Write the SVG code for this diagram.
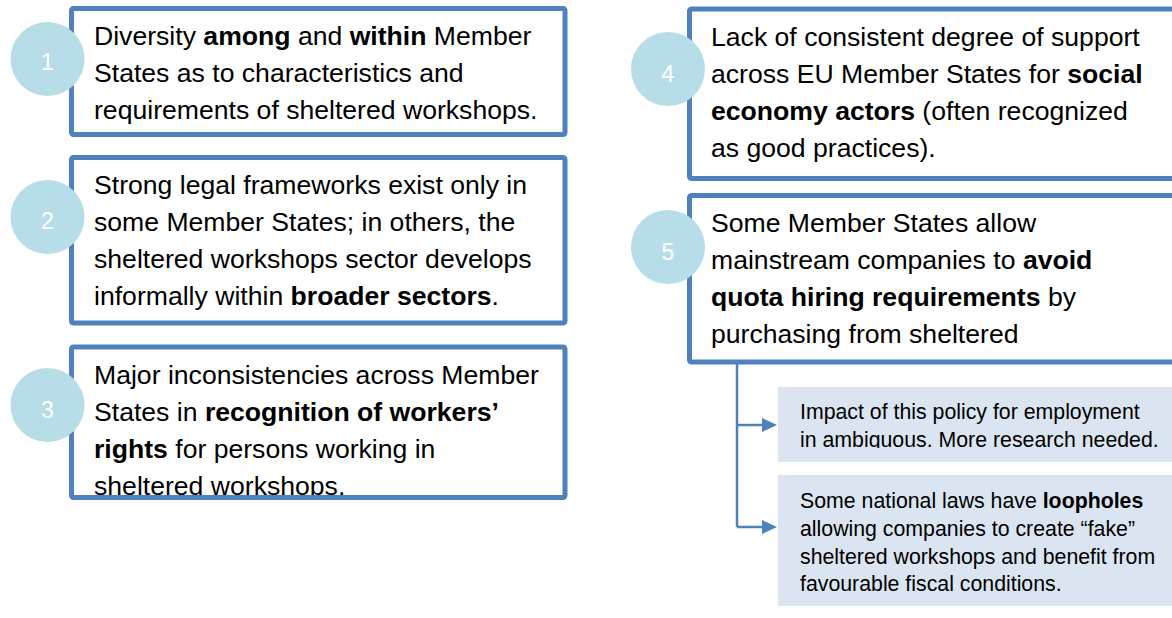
<svg xmlns="http://www.w3.org/2000/svg" width="1172" height="618" viewBox="0 0 1172 618">
<style>
.box{fill:#ffffff;stroke:#4F81BD;stroke-width:5;}
.lbox{fill:#DBE5F1;stroke:none;}
.num{fill:#B7DDE8;}
.numt{font-family:"Liberation Sans",Arial,sans-serif;font-size:23px;fill:#ffffff;text-anchor:middle;}
.t{font-family:"Liberation Sans",Arial,sans-serif;font-size:26.6px;fill:#000000;}
.s{font-family:"Liberation Sans",Arial,sans-serif;font-size:21.3px;fill:#000000;}
.b{font-weight:bold;}
.conn{fill:none;stroke:#4F81BD;stroke-width:2.5;}
</style>
<defs>
<marker id="arr" markerWidth="15" markerHeight="14" refX="0" refY="7" orient="auto" markerUnits="userSpaceOnUse" viewBox="0 0 15 14">
<path d="M0,0 L15,7 L0,14 Z" fill="#4F81BD"/>
</marker>
<clipPath id="c3"><rect x="74" y="349" width="489" height="146"/></clipPath>
<clipPath id="cA"><rect x="778" y="387" width="400" height="61"/></clipPath>
</defs>

<g id="connectors">
<path class="conn" d="M737,362 V527"/>
<path class="conn" d="M737,425 H762" marker-end="url(#arr)"/>
<path class="conn" d="M737,527 H762" marker-end="url(#arr)"/>
</g>

<g id="node1">
<rect class="box" x="71.5" y="8.5" width="493.5" height="126" rx="2"/>
<circle class="num" cx="47.5" cy="59" r="37"/>
<text class="numt" x="47.5" y="70">1</text>
<text class="t" x="94" y="45">Diversity <tspan class="b">among</tspan> and <tspan class="b">within</tspan> Member</text>
<text class="t" x="94" y="82">States as to characteristics and</text>
<text class="t" x="94" y="119">requirements of sheltered workshops.</text>
</g>

<g id="node2">
<rect class="box" x="71.5" y="157.5" width="493.5" height="165.5" rx="2"/>
<circle class="num" cx="47.5" cy="217" r="37"/>
<text class="numt" x="47.5" y="229">2</text>
<text class="t" x="94" y="194">Strong legal frameworks exist only in</text>
<text class="t" x="94" y="231">some Member States; in others, the</text>
<text class="t" x="94" y="268">sheltered workshops sector develops</text>
<text class="t" x="94" y="305">informally within <tspan class="b">broader sectors</tspan>.</text>
</g>

<g id="node3">
<rect class="box" x="71.5" y="347" width="493.5" height="150.5" rx="2"/>
<circle class="num" cx="47.5" cy="405" r="37"/>
<text class="numt" x="47.5" y="418">3</text>
<g clip-path="url(#c3)">
<text class="t" x="94" y="383.5">Major inconsistencies across Member</text>
<text class="t" x="94" y="420.5">States in <tspan class="b">recognition of workers’</tspan></text>
<text class="t" x="94" y="457.5"><tspan class="b">rights</tspan> for persons working in</text>
<text class="t" x="94" y="494.5">sheltered workshops.</text>
</g>
</g>

<g id="node4">
<rect class="box" x="689.5" y="9" width="492" height="169.5" rx="2"/>
<circle class="num" cx="668" cy="69" r="37"/>
<text class="numt" x="668" y="82">4</text>
<text class="t" x="711" y="45.5">Lack of consistent degree of support</text>
<text class="t" x="711" y="82.5">across EU Member States for <tspan class="b">social</tspan></text>
<text class="t" x="711" y="119.5"><tspan class="b">economy actors</tspan> (often recognized</text>
<text class="t" x="711" y="156.5">as good practices).</text>
</g>

<g id="node5">
<rect class="box" x="689.5" y="195.5" width="492" height="166.5" rx="2"/>
<circle class="num" cx="668" cy="247" r="37"/>
<text class="numt" x="668" y="260">5</text>
<text class="t" x="711" y="232">Some Member States allow</text>
<text class="t" x="711" y="269">mainstream companies to <tspan class="b">avoid</tspan></text>
<text class="t" x="711" y="306"><tspan class="b">quota hiring requirements</tspan> by</text>
<text class="t" x="711" y="343">purchasing from sheltered</text>
</g>

<g id="nodeA">
<rect class="lbox" x="778" y="387" width="400" height="75"/>
<g clip-path="url(#cA)">
<text class="s" x="800" y="419">Impact of this policy for employment</text>
<text class="s" x="800" y="447">in ambiguous. More research needed.</text>
</g>
</g>

<g id="nodeB">
<rect class="lbox" x="778" y="475" width="400" height="131"/>
<text class="s" x="800" y="507.5">Some national laws have <tspan class="b">loopholes</tspan></text>
<text class="s" x="800" y="535.5">allowing companies to create “fake”</text>
<text class="s" x="800" y="563.5">sheltered workshops and benefit from</text>
<text class="s" x="800" y="590.5">favourable fiscal conditions.</text>
</g>
</svg>
